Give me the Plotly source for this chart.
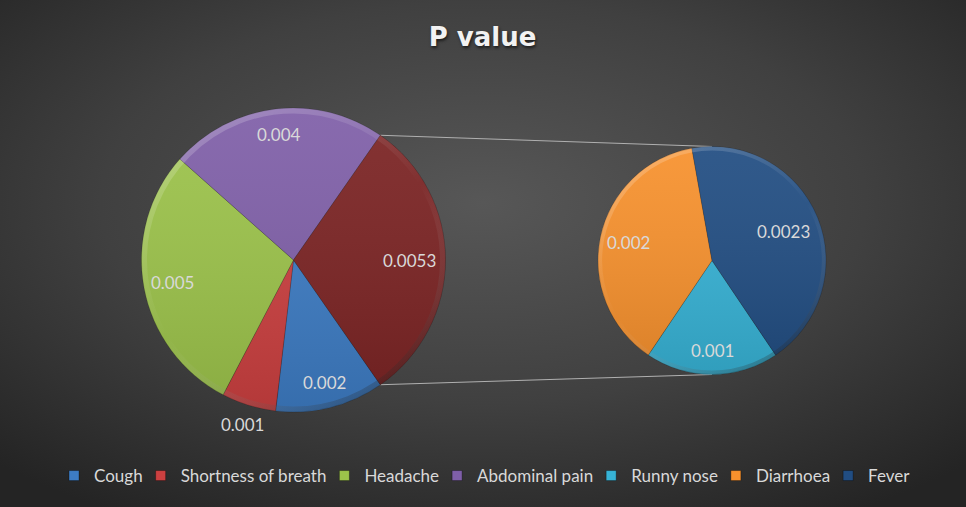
import math
import base64
import plotly.graph_objects as go

# ---------------- data ----------------
main_labels = ["Cough", "Shortness of breath", "Headache", "Abdominal pain", "Other"]
main_values = [0.002, 0.001, 0.005, 0.004, 0.0053]
main_text = ["0.002", "0.001", "0.005", "0.004", "0.0053"]

second_labels = ["Runny nose", "Diarrhoea", "Fever"]
second_values = [0.001, 0.002, 0.0023]
second_text = ["0.001", "0.002", "0.0023"]

legend_labels = ["Cough", "Shortness of breath", "Headache", "Abdominal pain",
                 "Runny nose", "Diarrhoea", "Fever"]

# ---------------- styles ----------------
main_colors = ["#3d7cc4", "#cc4040", "#9cc34a", "#7f5fa8", "#7b2323"]
second_colors = ["#37b3d6", "#f7912d", "#214d82"]
legend_colors = main_colors[:4] + second_colors
main_label_r = [0.83, 1.13, 0.81, 0.83, 0.76]
second_label_r = [0.79, 0.75, 0.675]

W, H = 966, 507
MAIN_C, MAIN_R = (293.5, 260.0), 152.0
SEC_C, SEC_R = (712.0, 260.5), 114.0
TXT = "#d9d9d9"
FONT = "Lato"


def dom(c, r):
    return dict(x=[(c[0] - r) / W, (c[0] + r) / W],
                y=[1 - (c[1] + r) / H, 1 - (c[1] - r) / H])


def px2paper(x, y):
    return x / W, 1 - y / H


main_total = sum(main_values)
other_deg = main_values[-1] / main_total * 360
main_start = -other_deg / 2          # math angle where first slice starts
sec_total = sum(second_values)
runny_deg = second_values[0] / sec_total * 360
sec_start = -90 + runny_deg / 2

fig = go.Figure()

fig.add_trace(go.Pie(
    labels=main_labels, values=main_values, sort=False, direction="clockwise",
    rotation=90 - main_start, domain=dom(MAIN_C, MAIN_R), textinfo="none",
    marker=dict(colors=main_colors, line=dict(color="rgba(0,0,0,0.18)", width=1)),
    showlegend=False, hoverinfo="label+value",
))
fig.add_trace(go.Pie(
    labels=second_labels, values=second_values, sort=False, direction="clockwise",
    rotation=90 - sec_start, domain=dom(SEC_C, SEC_R), textinfo="none",
    marker=dict(colors=second_colors, line=dict(color="rgba(0,0,0,0.18)", width=1)),
    showlegend=False, hoverinfo="label+value",
))

for lab, col in zip(legend_labels, legend_colors):
    fig.add_trace(go.Scatter(
        x=[None], y=[None], mode="markers", name=lab,
        marker=dict(symbol="square", size=10, color=col,
                    line=dict(color="rgba(0,0,0,0.3)", width=1)),
    ))

annotations = []


def add_labels(values, texts, start, total, c, r, fracs):
    cum = 0.0
    for v, t, f in zip(values, texts, fracs):
        mid = start - (cum + v / 2) / total * 360
        cum += v
        x = c[0] + f * r * math.cos(math.radians(mid))
        y = c[1] - f * r * math.sin(math.radians(mid))
        px, py = px2paper(x, y)
        annotations.append(dict(x=px, y=py, xref="paper", yref="paper", text=t,
                                showarrow=False, xanchor="center", yanchor="middle",
                                font=dict(family=FONT, size=17, color=TXT)))


add_labels(main_values, main_text, main_start, main_total, MAIN_C, MAIN_R, main_label_r)
add_labels(second_values, second_text, sec_start, sec_total, SEC_C, SEC_R, second_label_r)

# connector lines
shapes = []
for sgn in (1, -1):
    a = math.radians(sgn * other_deg / 2)
    x0 = MAIN_C[0] + MAIN_R * math.cos(a)
    y0 = MAIN_C[1] - MAIN_R * math.sin(a)
    x1 = SEC_C[0]
    y1 = SEC_C[1] - sgn * SEC_R
    p0 = px2paper(x0, y0)
    p1 = px2paper(x1, y1)
    shapes.append(dict(type="line", xref="paper", yref="paper",
                       x0=p0[0], y0=p0[1], x1=p1[0], y1=p1[1],
                       line=dict(color="#b0b0b0", width=1), layer="below"))


def svg_uri(svg):
    return "data:image/svg+xml;base64," + base64.b64encode(svg.encode()).decode()


bg_svg = (
    f'<svg xmlns="http://www.w3.org/2000/svg" width="{W}" height="{H}" '
    f'viewBox="0 0 {W} {H}" preserveAspectRatio="none">'
    '<defs><radialGradient id="g" cx="0.5" cy="0.4" r="0.72">'
    '<stop offset="0" stop-color="#575757"/>'
    '<stop offset="0.55" stop-color="#404040"/>'
    '<stop offset="1" stop-color="#242424"/>'
    '</radialGradient></defs>'
    f'<rect width="{W}" height="{H}" fill="url(#g)"/></svg>'
)

# soft bevel / shading overlay for pies
shade_svg = (
    '<svg xmlns="http://www.w3.org/2000/svg" width="200" height="200" viewBox="0 0 200 200">'
    '<defs>'
    '<linearGradient id="f" x1="0" y1="0" x2="0" y2="1">'
    '<stop offset="0" stop-color="#ffffff" stop-opacity="0.07"/>'
    '<stop offset="1" stop-color="#000000" stop-opacity="0.12"/>'
    '</linearGradient>'
    '<linearGradient id="s" x1="0.2" y1="0" x2="0.8" y2="1">'
    '<stop offset="0" stop-color="#ffffff" stop-opacity="0.22"/>'
    '<stop offset="0.5" stop-color="#ffffff" stop-opacity="0.0"/>'
    '<stop offset="1" stop-color="#000000" stop-opacity="0.3"/>'
    '</linearGradient>'
    '</defs>'
    '<circle cx="100" cy="100" r="100" fill="url(#f)"/>'
    '<circle cx="100" cy="100" r="98.2" fill="none" stroke="url(#s)" stroke-width="3.6"/>'
    '</svg>'
)

images = [dict(source=svg_uri(bg_svg), xref="paper", yref="paper", x=0, y=1,
               sizex=1, sizey=1, sizing="stretch", xanchor="left",
               yanchor="top", layer="below")]
for c, r in ((MAIN_C, MAIN_R), (SEC_C, SEC_R)):
    d = dom(c, r)
    images.append(dict(source=svg_uri(shade_svg), xref="paper", yref="paper",
                       x=d["x"][0], y=d["y"][1], sizex=d["x"][1] - d["x"][0],
                       sizey=d["y"][1] - d["y"][0], sizing="stretch",
                       xanchor="left", yanchor="top", layer="above"))

fig.update_layout(
    width=W, height=H,
    margin=dict(l=0, r=0, t=0, b=0),
    paper_bgcolor="#3a3a3a", plot_bgcolor="rgba(0,0,0,0)",
    xaxis=dict(visible=False), yaxis=dict(visible=False),
    title=dict(text="<b>P value</b>", x=0.4995, xanchor="center",
               y=1 - 37 / H, yanchor="middle",
               font=dict(family="DejaVu Sans", size=26, color="#f2f2f2",
                         shadow="1px 2px 3px rgba(0,0,0,0.6)")),
    legend=dict(orientation="h", x=0.5057, xanchor="center", y=1 - 476 / H,
                yanchor="middle", bgcolor="rgba(0,0,0,0)",
                font=dict(family=FONT, size=17, color=TXT), itemwidth=30,
                indentation=-7),
    annotations=annotations,
    shapes=shapes,
    images=images,
)

fig.write_html("out.html",
               config={"displayModeBar": False},
               post_script="document.body.style.margin='0px';"
                           "document.body.style.overflow='hidden';")
